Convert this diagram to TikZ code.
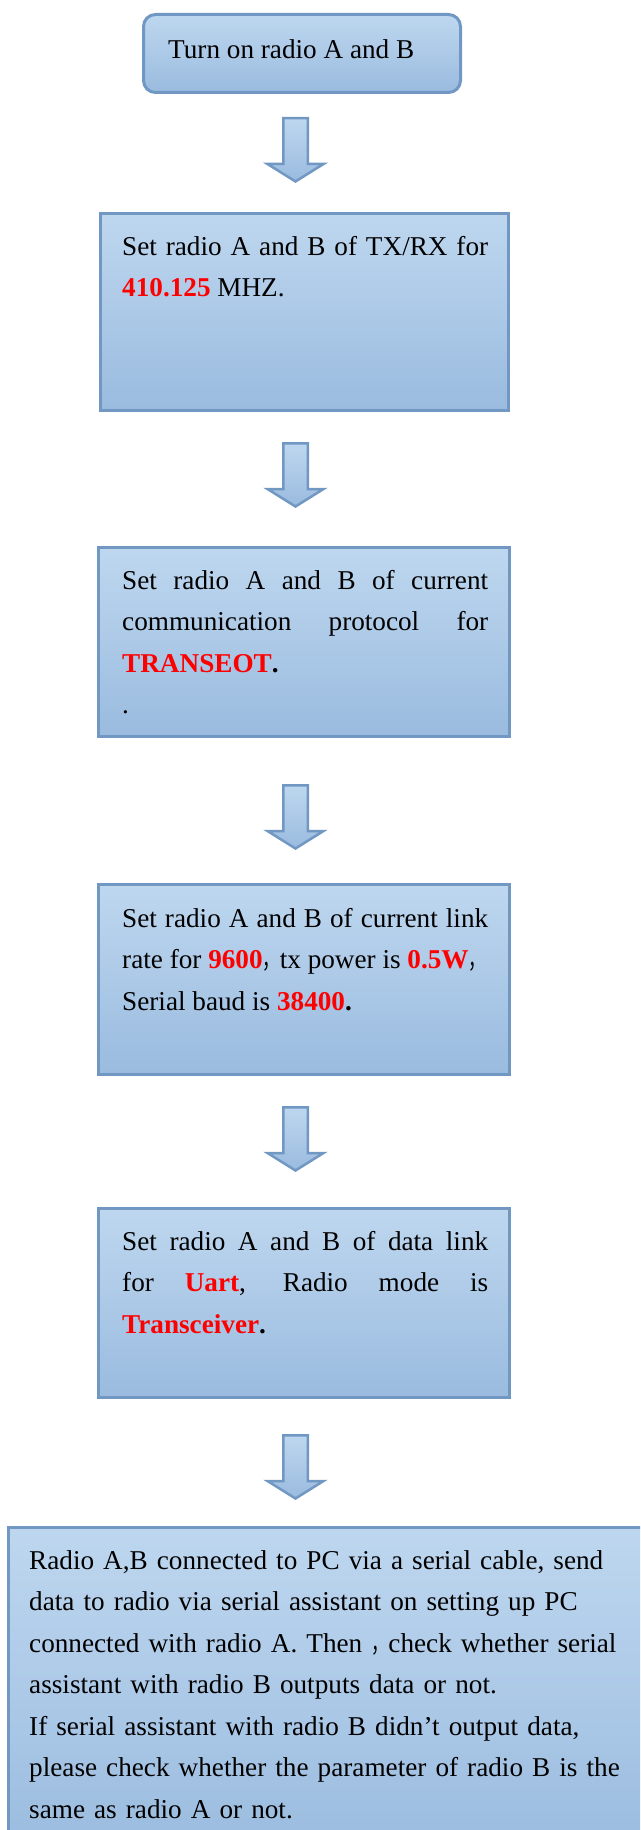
\documentclass[tikz,border=0pt]{standalone}
\usepackage{graphicx}
\usepackage{fontspec}
\setmainfont{Liberation Serif}
\newfontfamily\cjkfont{Noto Sans CJK SC}
\usetikzlibrary{calc}
\definecolor{fillTop}{RGB}{190,215,239}
\definecolor{fillBot}{RGB}{154,187,223}
\definecolor{border}{RGB}{113,151,195}
\definecolor{hlred}{RGB}{255,0,0}
\newcommand\redb[1]{\textbf{\textcolor{hlred}{#1}}}
\newcommand\fwc{\scalebox{0.63}[1]{\cjkfont ，}}
\begin{document}
\begin{tikzpicture}[x=1pt,y=-1pt,
  box/.style={draw=border, line width=3pt, top color=fillTop, bottom color=fillBot, inner sep=0pt},
  txt/.style={anchor=north west, inner sep=0pt, text width=366pt, align=justify,
    font=\fontsize{27.2pt}{41.5pt}\selectfont},
  pics/downarrow/.style={code={
    \shade[top color=fillTop, bottom color=fillBot, draw=border, line width=2.5pt, line join=miter]
      (-12.25,1.25) -- (12.25,1.25) -- (12.25,47) -- (28,47) -- (0,64.5)
      -- (-28,47) -- (-12.25,47) -- cycle;
  }}]
\useasboundingbox (0,0) rectangle (640,1830);
\clip (0,0) rectangle (640,1830);

% box 1
\node[box, rounded corners=12pt, minimum width=317pt, minimum height=78pt] (b1) at (302,53.5) {};
\node[anchor=base west, inner sep=0pt, font=\fontsize{27.2pt}{41.5pt}\selectfont] (t1) at (168,59) {Turn on radio A and B};

% box 2
\node[box, minimum width=408pt, minimum height=197pt] (b2) at (304.5,312) {};
\node[txt] (t2) at (122,235) {\rule{0pt}{20pt}Set radio A and B of TX/RX for\linebreak \redb{410.125} MHZ.};

% box 3
\node[box, minimum width=411pt, minimum height=189pt] (b3) at (304,642) {};
\node[txt] (t3) at (122,569) {\rule{0pt}{20pt}Set radio A and B of current\linebreak communication protocol for\linebreak \redb{TRANSEOT}\textbf{.}\\ .};

% box 4
\node[box, minimum width=411pt, minimum height=190pt] (b4) at (304,979.5) {};
\node[txt] (t4) at (122,907) {\rule{0pt}{20pt}Set radio A and B of current link\linebreak \mbox{rate for \redb{9600}\fwc tx power is \redb{0.5W}\fwc}\\ Serial baud is \redb{38400}\textbf{.}};

% box 5
\node[box, minimum width=411pt, minimum height=189pt] (b5) at (304,1303) {};
\node[txt] (t5) at (122,1230) {\rule{0pt}{20pt}Set radio A and B of data link\linebreak for \redb{Uart}, Radio mode is\linebreak \redb{Transceiver}\textbf{.}};

% box 6
\node[box, minimum width=651.5pt, minimum height=332.5pt] (b6) at (334.25,1693.75) {};
\node[txt, text width=600pt, align=left] (t6) at (29,1549) {\rule{0pt}{20pt}Radio A,B connected to PC via a serial cable, send\\
data to radio via serial assistant on setting up PC\\
connected with radio A. Then \fwc check whether serial\\
assistant with radio B outputs data or not.\\
If serial assistant with radio B didn’t output data,\\
please check whether the parameter of radio B is the\\
same as radio A or not.};

% arrows
\coordinate (a1) at (295.5,117);
\coordinate (a2) at (295.5,442);
\coordinate (a3) at (295.5,784);
\coordinate (a4) at (295.5,1106);
\coordinate (a5) at (295.5,1434);
\pic at (a1) {downarrow};
\pic at (a2) {downarrow};
\pic at (a3) {downarrow};
\pic at (a4) {downarrow};
\pic at (a5) {downarrow};
\end{tikzpicture}
\end{document}
